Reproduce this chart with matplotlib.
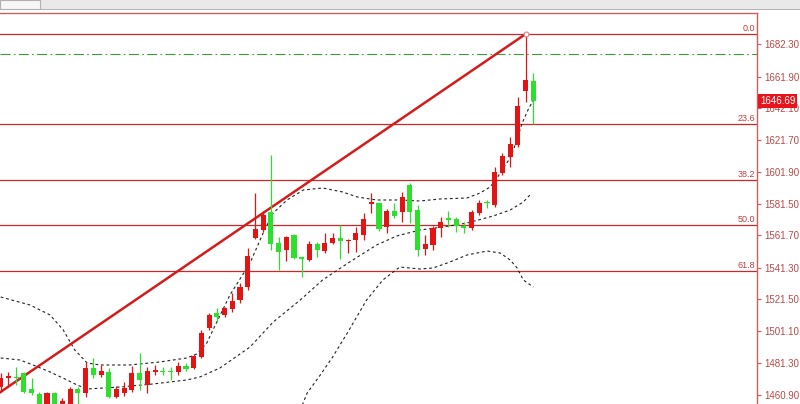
import numpy as np
import matplotlib
matplotlib.use('Agg')
import matplotlib.pyplot as plt
import matplotlib.transforms as mtransforms
from matplotlib.patches import Rectangle

# candle data (price), one bar per entry
opens = [1465.96, 1471.64, 1472.27, 1474.79, 1464.70, 1461.54, 1452.70, 1462.17, 1455.22, 1452.70,
         1464.70, 1462.17, 1477.95, 1473.53, 1475.42, 1459.64, 1462.17, 1464.07, 1474.79, 1467.22,
         1475.42, 1476.05, 1476.05, 1475.42, 1479.21, 1477.95, 1484.90, 1503.24, 1512.67, 1511.41,
         1515.20, 1520.88, 1529.09, 1560.02, 1565.07, 1576.43, 1556.86, 1552.44, 1561.91, 1548.03,
         1546.13, 1556.23, 1551.81, 1556.86, 1560.02, 1558.13, 1558.76, 1561.91, 1581.48, 1582.12,
         1566.96, 1577.06, 1576.43, 1593.48, 1577.70, 1553.08, 1555.60, 1566.33, 1572.65, 1572.02,
         1567.60, 1566.33, 1575.80, 1582.75, 1580.85, 1601.06, 1611.16, 1618.73, 1652.82, 1659.14]
highs = [1474.79, 1475.42, 1478.58, 1475.42, 1471.64, 1462.81, 1462.81, 1462.81, 1459.01, 1465.96,
         1465.96, 1481.74, 1484.26, 1479.85, 1477.95, 1466.59, 1469.12, 1479.21, 1487.42, 1478.58,
         1479.85, 1478.58, 1478.58, 1481.74, 1481.11, 1486.79, 1501.98, 1512.67, 1515.83, 1516.46,
         1525.30, 1531.61, 1553.71, 1588.43, 1577.06, 1612.42, 1560.65, 1561.28, 1562.54, 1548.66,
         1558.13, 1557.49, 1563.18, 1563.18, 1568.23, 1559.39, 1566.96, 1575.80, 1588.43, 1582.75,
         1578.33, 1582.12, 1589.06, 1594.74, 1580.85, 1561.91, 1567.60, 1573.28, 1577.06, 1573.28,
         1570.12, 1577.70, 1584.01, 1584.01, 1604.85, 1613.68, 1623.78, 1649.06, 1688.80, 1664.19]
lows = [1462.81, 1465.96, 1467.22, 1462.17, 1460.91, 1451.43, 1451.43, 1451.43, 1452.70, 1451.43,
        1452.70, 1459.64, 1471.64, 1472.27, 1459.01, 1459.01, 1460.28, 1462.81, 1464.07, 1462.17,
        1473.53, 1473.53, 1470.38, 1473.53, 1476.05, 1477.32, 1484.26, 1501.98, 1506.99, 1510.15,
        1513.31, 1518.99, 1527.19, 1559.39, 1563.81, 1552.44, 1539.82, 1545.50, 1546.76, 1535.40,
        1545.50, 1548.03, 1550.55, 1556.23, 1546.76, 1550.55, 1551.18, 1558.76, 1575.80, 1564.44,
        1563.18, 1572.65, 1570.12, 1569.49, 1548.66, 1549.29, 1552.44, 1560.65, 1566.96, 1563.81,
        1563.18, 1565.07, 1574.54, 1578.96, 1579.59, 1599.79, 1604.85, 1617.47, 1645.88, 1631.99]
closes = [1471.64, 1472.90, 1471.64, 1462.81, 1462.17, 1452.70, 1462.17, 1452.70, 1457.12, 1464.70,
          1462.17, 1477.95, 1473.53, 1476.05, 1459.64, 1464.70, 1465.33, 1474.79, 1470.38, 1476.05,
          1476.69, 1475.42, 1475.42, 1479.21, 1477.32, 1485.53, 1500.04, 1511.41, 1510.15, 1515.83,
          1520.25, 1529.09, 1548.66, 1565.70, 1574.54, 1556.23, 1551.18, 1560.65, 1547.39, 1546.76,
          1556.23, 1552.44, 1556.86, 1560.02, 1558.13, 1558.76, 1563.18, 1572.02, 1582.75, 1565.70,
          1577.06, 1573.91, 1585.90, 1576.43, 1552.44, 1556.23, 1566.33, 1570.12, 1571.38, 1567.60,
          1566.33, 1576.43, 1582.12, 1582.12, 1601.69, 1611.79, 1619.37, 1643.35, 1659.77, 1646.69]

# bollinger bands (bar position, price)
upper_bar = [0, 3.8, 6.4, 8.1, 9.6, 11.2, 12.9, 16.7, 20.6, 24.1, 25.4, 26.7, 27.5, 29.7, 32.3, 34.0,
             35.3, 37.1, 39.2, 41.7, 44.3, 46.2, 48.7, 51.7, 54.3, 56.9, 60.4, 62.1, 63.4, 64.3, 65.1,
             66.0, 66.9, 67.5, 68.3, 69.0]
upper_val = [1522.77, 1517.72, 1511.41, 1501.98, 1489.31, 1481.11, 1479.85, 1479.85, 1481.74, 1484.26,
             1486.79, 1493.73, 1501.98, 1524.04, 1544.24, 1563.18, 1575.80, 1584.01, 1590.32, 1591.59,
             1589.06, 1585.90, 1584.01, 1584.01, 1583.38, 1584.64, 1585.27, 1588.43, 1592.22, 1597.90,
             1604.21, 1610.52, 1621.89, 1631.99, 1640.83, 1647.14]
middle_bar = [0, 2.5, 4.2, 6.4, 8.6, 9.9, 11.2, 15.5, 19.7, 24.1, 25.8, 28.4, 32.3, 35.3, 38.8, 41.7,
              45.2, 48.7, 51.3, 54.3, 57.3, 60.4, 63.8, 66.0, 67.7, 68.8]
middle_val = [1484.26, 1483.00, 1479.85, 1475.42, 1470.38, 1467.22, 1464.70, 1465.96, 1467.85, 1470.38,
              1472.27, 1477.95, 1491.21, 1506.99, 1520.88, 1533.51, 1544.87, 1555.60, 1561.28, 1565.07,
              1566.96, 1569.49, 1573.91, 1577.70, 1582.75, 1588.43]
lower_bar = [38.8, 39.7, 41.4, 43.0, 44.9, 47.4, 49.5, 51.7, 54.3, 56.0, 58.2, 60.4, 63.0, 64.7, 66.0,
             66.9, 67.7, 69.0]
lower_val = [1451.43, 1462.17, 1473.53, 1484.90, 1500.04, 1520.88, 1533.51, 1541.71, 1540.45, 1541.08,
             1544.87, 1549.29, 1551.81, 1550.55, 1546.13, 1541.08, 1533.51, 1529.09]

# fibonacci retracement and trend line
fib_high = 1688.8
fib_low = 1447.1
fib_levels = [0.0, 23.6, 38.2, 50.0, 61.8]
trend_bars = [-4.75, 68]
trend_prices = [fib_low, fib_high]
green_level = 1676.2
last_price = 1646.69

yticks = [1682.30, 1661.90, 1642.10, 1621.70, 1601.90, 1581.50, 1561.70, 1541.30,
          1521.50, 1501.10, 1481.30, 1460.90]

red = '#e21414'
green = '#2ee02e'
frame = '#c86060'

fig = plt.figure(figsize=(8, 4.04), dpi=100)
ax = fig.add_axes([0, 0, 757 / 800, 391 / 404])

# fib lines
for lv in fib_levels:
    price = fib_high - (fib_high - fib_low) * lv / 100
    ax.axhline(price, color='#cc2828', lw=0.9, zorder=1)
    ax.text(0.997, price + 0.6, '%.1f' % lv, transform=mtransforms.blended_transform_factory(ax.transAxes, ax.transData),
            ha='right', va='bottom', fontsize=6.5, color='#c03c3c', family='Liberation Sans')

ax.axhline(green_level, color='#3c9c3c', lw=0.8, ls=(0, (9, 3, 1.5, 3)), zorder=1)

# bands
for bx, bv in [(upper_bar, upper_val), (middle_bar, middle_val), (lower_bar, lower_val)]:
    ax.plot(bx, bv, color='#222222', lw=0.8, ls=(0, (2.5, 2.5)), zorder=2)

ax.plot(trend_bars, trend_prices, color='#d41c1c', lw=1.8, zorder=3, solid_capstyle='butt')
ax.plot([trend_bars[1]], [trend_prices[1]], 'o', mfc='white', mec='#d88080', ms=3.5, mew=0.8, zorder=5)

# candles
x = np.arange(len(opens))
o = np.array(opens)
h = np.array(highs)
l = np.array(lows)
c = np.array(closes)
colors = [red if cc > oo else green for oo, cc in zip(o, c)]
ax.vlines(x, l, h, colors=colors, lw=0.9, zorder=4)
bottoms = np.minimum(o, c)
heights = np.maximum(np.abs(c - o), 0.7)
ax.bar(x, heights, bottom=bottoms, width=0.66, color=colors, zorder=4, linewidth=0)

ax.set_xlim(-0.09, 97.97)
ax.set_ylim(1455.22, 1702.06)
ax.set_xticks([])
ax.yaxis.tick_right()
ax.set_yticks(yticks)
ax.set_yticklabels(['%.2f' % t for t in yticks])
ax.tick_params(axis='y', direction='out', length=3, width=0.8, color=frame, pad=2,
               labelsize=7, labelcolor='#b84a4a')
for lab in ax.get_yticklabels():
    lab.set_family('Liberation Sans')
for s in ['left', 'bottom']:
    ax.spines[s].set_visible(False)
for s in ['top', 'right']:
    ax.spines[s].set_color(frame)
    ax.spines[s].set_linewidth(1.0)

# current price tag
ax.text(1.004, last_price, '%.2f' % last_price,
        transform=mtransforms.blended_transform_factory(ax.transAxes, ax.transData),
        ha='left', va='center', fontsize=7, color='white', family='Liberation Sans', zorder=6,
        bbox=dict(boxstyle='square,pad=0.2', fc='#e8141c', ec='none'), clip_on=False)

# window toolbar strip
fig.patches.append(Rectangle((0, 1 - 9 / 404), 1, 9 / 404, transform=fig.transFigure,
                             fc='#e9e9e9', ec='none'))
fig.patches.append(Rectangle((0, 1 - 10 / 404), 1, 1 / 404, transform=fig.transFigure,
                             fc='#b4b4b4', ec='none'))
fig.patches.append(Rectangle((0, 1 - 9 / 404), 40 / 800, 9 / 404, transform=fig.transFigure,
                             fc='#f6f6f6', ec='#b0b0b0', lw=0.8))

plt.savefig('out.png', dpi=100)
